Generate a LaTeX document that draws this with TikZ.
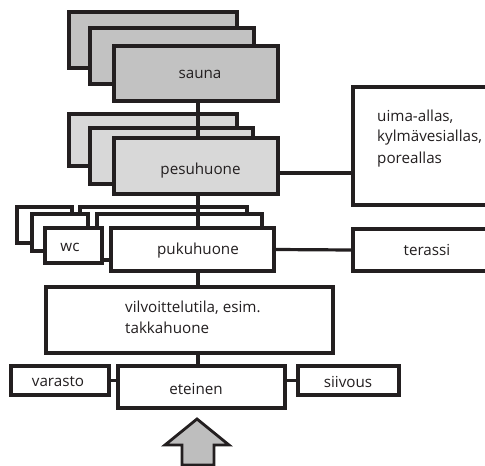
\documentclass[tikz,border=0pt]{standalone}
\usepackage{fontspec}
\setmainfont{Open Sans}
\definecolor{saunagray}{RGB}{194,194,194}
\definecolor{pesugray}{RGB}{216,216,216}
\definecolor{arrowgray}{RGB}{190,190,190}
\definecolor{inkcol}{RGB}{35,31,32}
\begin{document}
\begin{tikzpicture}[x=1pt,y=-1pt,
  room/.style={draw=inkcol, line width=3.2pt, rectangle, inner sep=0pt, fill=white},
  dark/.style={fill=saunagray},
  light/.style={fill=pesugray},
  lbl/.style={inner sep=0pt, text=inkcol, font=\fontsize{15.2}{18}\selectfont},
  wire/.style={draw=inkcol, line width=3.2pt},
  bigarrow/.style={draw=inkcol, line width=2.8pt, fill=arrowgray, line join=miter}]
\useasboundingbox (0,0) rectangle (485,466);
\clip (0,0) rectangle (485,466);
\coordinate (spine) at (198,0);

% sauna stack
\node[room,dark,minimum width=168pt,minimum height=56pt] (saunaA) at (153,40) {};
\node[room,dark,minimum width=164pt,minimum height=56pt] (saunaB) at (172,56) {};
\node[room,dark,minimum width=164pt,minimum height=55pt] (sauna) at (196,73.5) {};
\node[lbl] (saunatxt) at (200,74) {sauna};

% pesuhuone stack
\node[room,light,minimum width=168pt,minimum height=52pt] (pesuA) at (153,140) {};
\node[room,light,minimum width=163pt,minimum height=56pt] (pesuB) at (171.5,156) {};
\draw[wire] (sauna.south -| spine) -- (pesuA.north -| spine) -- (pesuB.south -| spine);
\node[room,light,minimum width=164pt,minimum height=56pt] (pesu) at (196,166) {};
\node[lbl] (pesutxt) at (200.5,171) {pesuhuone};

% uima-allas
\node[room,minimum width=142pt,minimum height=118pt] (uima) at (424,146) {};
\node[lbl,anchor=west] (uima1) at (377,116.5) {uima-allas,};
\node[lbl,anchor=west] (uima2) at (377,138) {kylmävesiallas,};
\node[lbl,anchor=west] (uima3) at (377,160) {poreallas};
\draw[wire] (pesu.east |- 0,173) -- (uima.west |- 0,173);

% pukuhuone + wc stacks
\node[room,minimum width=167pt,minimum height=35pt] (pukuA) at (163.5,224.5) {};
\node[room,minimum width=165pt,minimum height=46pt] (pukuB) at (179.5,237) {};
\node[room,minimum width=55pt,minimum height=36pt] (wcA) at (44.5,225) {};
\node[room,minimum width=56pt,minimum height=37pt] (wcB) at (60,232.5) {};
\node[room,minimum width=57pt,minimum height=35pt] (wc) at (73.5,245.5) {};
\node[lbl] (wctxt) at (70,247) {wc};
\draw[wire] (pesu.south -| spine) -- (pukuA.north -| spine) -- (pukuB.south -| spine);
\node[room,minimum width=163pt,minimum height=43pt] (puku) at (192.5,249.5) {};
\node[lbl] (pukutxt) at (198,251) {pukuhuone};

% terassi
\node[room,minimum width=142pt,minimum height=42pt] (terassi) at (424,250) {};
\node[lbl] (terassitxt) at (427,250) {terassi};
\draw[wire] (puku.east) -- (terassi.west);

% vilvoittelutila
\node[room,minimum width=287pt,minimum height=66pt] (vilv) at (189.5,320) {};
\node[lbl,anchor=west] (vilv1) at (125,307.5) {vilvoittelutila, esim.};
\node[lbl,anchor=west] (vilv2) at (125,327.5) {takkahuone};
\draw[wire] (puku.south -| spine) -- (vilv.north -| spine);

% eteinen row
\node[room,minimum width=167pt,minimum height=42pt] (eteinen) at (201.5,387) {};
\node[lbl] (eteinentxt) at (196,389) {eteinen};
\node[room,minimum width=98pt,minimum height=29pt] (varasto) at (60,380.5) {};
\node[lbl] (varastotxt) at (58,382) {varasto};
\node[room,minimum width=101pt,minimum height=29pt] (siivous) at (348.5,380.5) {};
\node[lbl] (siivoustxt) at (348,382) {siivous};
\draw[wire] (vilv.south -| spine) -- (eteinen.north -| spine);
\draw[wire] (varasto.east) -- (eteinen.west |- varasto.east);
\draw[wire] (siivous.west) -- (eteinen.east |- siivous.west);

% entrance arrow
\coordinate (tip) at (197,419);
\draw[bigarrow] (tip) -- ++(32,26) -- ++(-15,0) -- ++(0,20) -- ++(-32,0) -- ++(0,-20) -- ++(-17,0) -- cycle;
\end{tikzpicture}
\end{document}
